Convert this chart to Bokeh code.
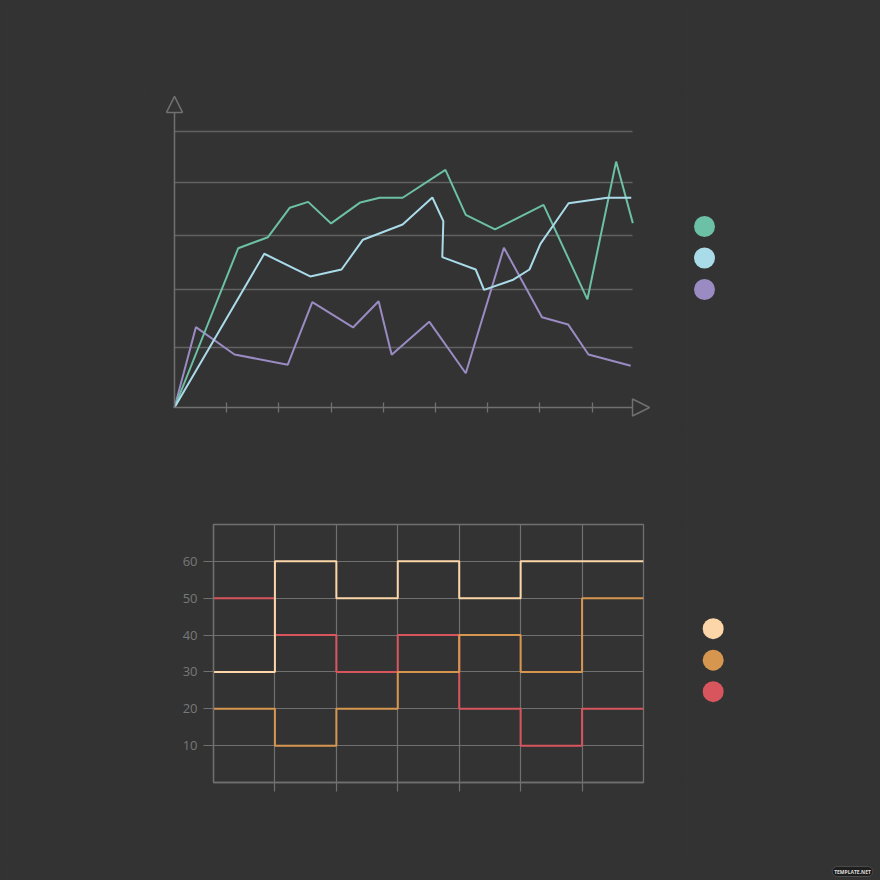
from bokeh.plotting import figure
from bokeh.layouts import column, row
from bokeh.models import (Range1d, FixedTicker, Arrow, NormalHead, Label)
from bokeh.embed import file_html
from bokeh.resources import INLINE

BG = "#333333"
AXIS = "#707070"
GRID = "#626262"

# ---------------- top line chart data ----------------
green_x = [0, 1.22, 1.79, 2.21, 2.56, 3.00, 3.56, 3.93, 4.37, 5.19, 5.58, 6.14, 7.07, 7.91, 8.46, 8.78]
green_y = [0, 57.7, 61.7, 72.4, 74.5, 66.7, 74.3, 76.0, 76.0, 86.1, 69.8, 64.5, 73.4, 39.2, 89.1, 66.8]
blue_x = [0, 1.72, 2.60, 3.20, 3.61, 4.37, 4.94, 5.15, 5.13, 5.77, 5.93, 6.49, 6.80, 7.01, 7.55, 8.29, 8.75]
blue_y = [0, 55.7, 47.5, 50.0, 60.8, 66.3, 76.1, 67.5, 54.5, 50.0, 42.6, 46.3, 50.0, 59.3, 74.0, 76.0, 76.0]
purple_x = [0, 0.41, 1.15, 2.17, 2.64, 3.42, 3.91, 4.16, 4.88, 5.58, 6.31, 7.04, 7.54, 7.93, 8.74]
purple_y = [0, 29.1, 19.2, 15.5, 38.2, 29.0, 38.5, 19.1, 31.1, 12.4, 57.9, 32.7, 30.1, 19.2, 15.1]
top_colors = ["#6cc0a5", "#aadbe9", "#9a8bc3"]
top_x_ticks = [1, 2, 3, 4, 5, 6, 7, 8]
top_grid = [21.6, 42.8, 62.2, 81.6, 100]
top_x_end = 8.78
top_arrow_x = 9.10
top_arrow_y = 112.7

# ---------------- bottom step chart data ----------------
step_edges = [0, 1, 2, 3, 4, 5, 6, 7]
peach_vals = [30, 60, 50, 60, 50, 60, 60]
orange_vals = [20, 10, 20, 30, 40, 30, 50]
red_vals = [50, 40, 30, 40, 20, 10, 20]
bottom_colors = ["#fcd6a8", "#d6964f", "#d8555e"]
bottom_y_ticks = [10, 20, 30, 40, 50, 60]
bottom_x_ticks = [1, 2, 3, 4, 5, 6]
legend_rows = [0, 1, 2]
watermark = "TEMPLATE.NET"


def base_fig(w, h, xr, yr, **kw):
    p = figure(width=w, height=h, x_range=xr, y_range=yr, output_backend="svg",
               toolbar_location=None, title=None, styles={"background-color": BG}, **kw)
    p.background_fill_color = BG
    p.border_fill_color = BG
    p.outline_line_color = None
    return p


# ---- top chart ----
p1 = base_fig(680, 470, Range1d(-0.4598, 9.3103), Range1d(-6.522, 115.58),
              min_border_left=150, min_border_right=20, min_border_top=88, min_border_bottom=45)
p1.yaxis.visible = False
p1.xgrid.visible = False
p1.ygrid.ticker = FixedTicker(ticks=top_grid)
p1.ygrid.grid_line_color = GRID
p1.ygrid.grid_line_width = 1.3
p1.ygrid.cross_bounds = (0, top_x_end)
xa = p1.xaxis[0]
xa.fixed_location = 0
xa.ticker = FixedTicker(ticks=top_x_ticks)
xa.major_label_overrides = {t: "" for t in top_x_ticks}
xa.axis_line_color = None
xa.minor_tick_line_color = None
xa.major_tick_line_color = AXIS
xa.major_tick_line_width = 1.3
xa.major_tick_in = 5
xa.major_tick_out = 5

p1.add_layout(Arrow(x_start=0, y_start=0, x_end=0, y_end=top_arrow_y,
                    line_color=AXIS, line_width=1.5,
                    end=NormalHead(size=16, line_color=AXIS, line_width=1.5, fill_alpha=0)))
p1.add_layout(Arrow(x_start=0, y_start=0, x_end=top_arrow_x, y_end=0,
                    line_color=AXIS, line_width=1.5,
                    end=NormalHead(size=17, line_color=AXIS, line_width=1.5, fill_alpha=0)))

p1.line(purple_x, purple_y, line_color=top_colors[2], line_width=2)
p1.line(green_x, green_y, line_color=top_colors[0], line_width=2)
p1.line(blue_x, blue_y, line_color=top_colors[1], line_width=2)

# ---- top legend (frame aligned with the chart frame) ----
l1 = base_fig(200, 470, Range1d(-0.762, 5.587), Range1d(6.317, -4.381),
              x_axis_location=None, y_axis_location=None,
              min_border_left=0, min_border_right=0, min_border_top=88, min_border_bottom=45)
l1.grid.visible = False
l1.scatter([0, 0, 0], legend_rows, size=21, fill_color=top_colors, line_color=None)

# ---- bottom chart ----
p2 = base_fig(680, 392, Range1d(0, 7), Range1d(0, 70),
              min_border_left=213, min_border_right=37, min_border_top=54, min_border_bottom=80)
p2.outline_line_color = AXIS
p2.outline_line_width = 1.3
p2.xgrid.ticker = FixedTicker(ticks=bottom_x_ticks)
p2.ygrid.ticker = FixedTicker(ticks=bottom_y_ticks)
for g in (p2.xgrid[0], p2.ygrid[0]):
    g.grid_line_color = AXIS
    g.grid_line_width = 1.2
ya = p2.yaxis[0]
ya.ticker = FixedTicker(ticks=bottom_y_ticks)
ya.axis_line_color = AXIS
ya.axis_line_width = 1.3
ya.major_tick_line_color = AXIS
ya.major_tick_line_width = 1.2
ya.major_tick_in = 0
ya.major_tick_out = 10
ya.minor_tick_line_color = None
ya.major_label_standoff = 6
ya.major_label_text_color = "#787878"
ya.major_label_text_font = "Open Sans"
ya.major_label_text_font_size = "13px"
xb = p2.xaxis[0]
xb.ticker = FixedTicker(ticks=bottom_x_ticks)
xb.major_label_overrides = {t: "" for t in bottom_x_ticks}
xb.axis_line_color = AXIS
xb.axis_line_width = 1.3
xb.major_tick_line_color = AXIS
xb.major_tick_line_width = 1.2
xb.major_tick_in = 0
xb.major_tick_out = 9
xb.minor_tick_line_color = None

p2.step(step_edges, red_vals + red_vals[-1:], mode="after", line_color=bottom_colors[2], line_width=2)
p2.step(step_edges, orange_vals + orange_vals[-1:], mode="after", line_color=bottom_colors[1], line_width=2)
p2.step(step_edges, peach_vals + peach_vals[-1:], mode="after", line_color=bottom_colors[0], line_width=2)

# ---- bottom legend ----
l2 = base_fig(200, 392, Range1d(-1.038, 5.311), Range1d(4.883, -3.308),
              x_axis_location=None, y_axis_location=None,
              min_border_left=0, min_border_right=0, min_border_top=54, min_border_bottom=80)
l2.grid.visible = False
l2.scatter([0, 0, 0], legend_rows, size=21, fill_color=bottom_colors, line_color=None)

# ---- footer strip with the watermark ----
wm = base_fig(880, 18, Range1d(0, 880), Range1d(0, 18),
              x_axis_location=None, y_axis_location=None, min_border=0)
wm.grid.visible = False
wm.add_layout(Label(x=852, y=9, text=watermark, text_font="Open Sans",
                    text_font_size="5px", text_font_style="bold", text_color="#dddddd",
                    text_align="center", text_baseline="middle",
                    background_fill_color="#1e1e1e", border_line_color="#4a4a4a",
                    border_radius=5, padding=2))

layout = column(row(p1, l1), row(p2, l2), wm, styles={"background-color": BG})
html = file_html(layout, INLINE)
html = html.replace("</head>", "<style>html, body {background-color: %s !important;}</style></head>" % BG, 1)
open("out.html", "w").write(html)
